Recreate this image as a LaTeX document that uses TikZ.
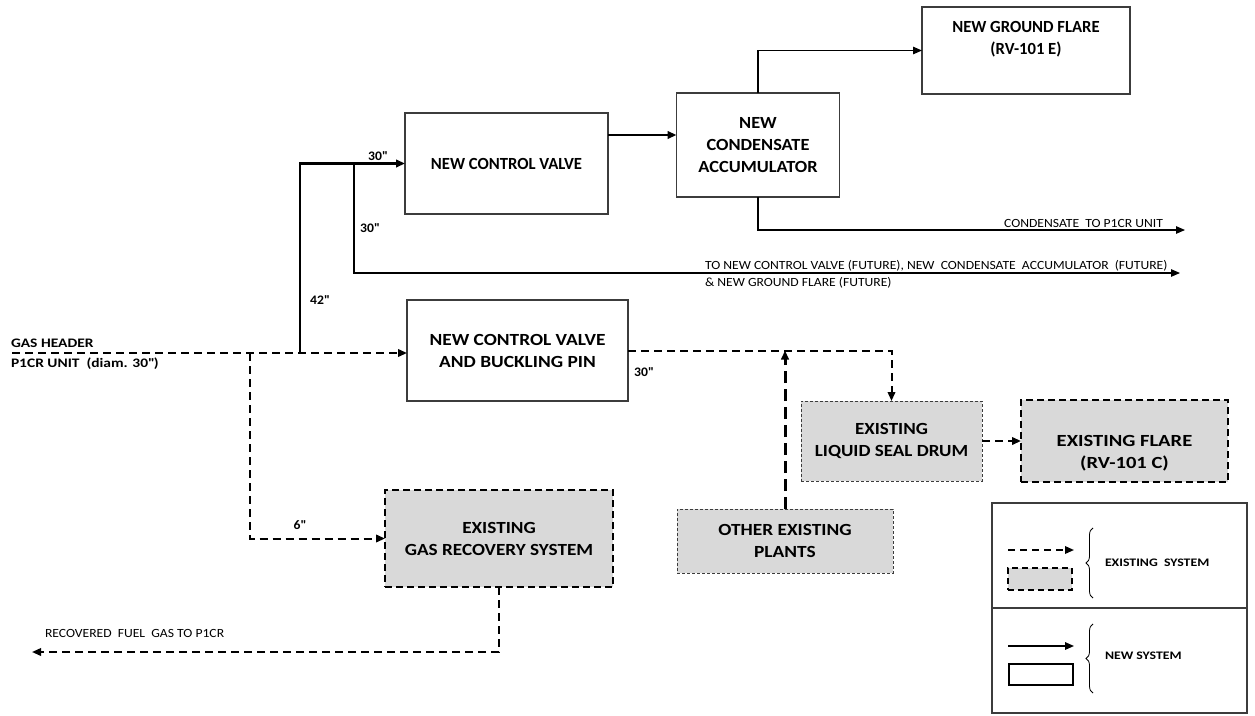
\documentclass[tikz,border=0pt]{standalone}
\usepackage{fontspec}
\setmainfont{Carlito}
\usetikzlibrary{arrows.meta,decorations.pathreplacing}
\definecolor{exfill}{RGB}{217,217,217}
\definecolor{edge}{RGB}{60,60,60}
\newcommand\dq{\XeTeXglyph\XeTeXcharglyph"22\relax}
\begin{document}
\begin{tikzpicture}[x=1pt,y=-1pt,
  every node/.style={inner sep=0pt, outer sep=0pt},
  boxtxt/.style={font=\fontsize{17}{22}\selectfont\bfseries\addfontfeature{FakeStretch=#1}, align=center},
  boxtxt/.default=1.13,
  newbox/.style={boxtxt=#1, draw=edge, line width=1.1pt, fill=white},
  newbox/.default=1.13,
  exboxthick/.style={boxtxt=#1, draw=black, line width=2pt, dash pattern=on 7pt off 4pt, fill=exfill},
  exboxthick/.default=1.13,
  exboxthin/.style={boxtxt=#1, draw=edge, line width=1pt, dash pattern=on 3pt off 2pt, fill=exfill},
  exboxthin/.default=1.13,
  tip/.style={-{Triangle[length=9pt,width=7.5pt]}},
  newthick/.style={line width=2.2pt, tip},
  newthin/.style={line width=1.2pt, tip},
  exline/.style={line width=2pt, dash pattern=on 8pt off 5pt, tip},
  exthick/.style={line width=3pt, dash pattern=on 12pt off 6pt, tip},
  dim/.style={font=\fontsize{13}{15}\selectfont\bfseries\addfontfeature{FakeStretch=1.05}},
  hdr/.style={font=\fontsize{13}{15}\selectfont\bfseries\addfontfeature{FakeStretch=1.19}, anchor=west},
  note/.style={font=\fontsize{12.5}{15}\selectfont\addfontfeature{FakeStretch=1.09}},
  legtxt/.style={font=\fontsize{11.5}{13}\selectfont\bfseries\addfontfeature{FakeStretch=1.2}, anchor=west},
  legbrace/.style={line width=0.8pt, decorate, decoration={brace, amplitude=7pt}}
]
\useasboundingbox (0,0) rectangle (1255,715);

% ---- boxes ----
\node[newbox=0.98, minimum width=203pt, minimum height=101pt] (cv) at (506.5,163.5) {NEW CONTROL VALVE};
\node[newbox=1.08, minimum width=163pt, minimum height=104pt] (acc) at (758,145) {NEW\\CONDENSATE\\ACCUMULATOR};
\node[newbox, minimum width=208pt, minimum height=87pt] (gf) at (1026,50.5) {};
\node[boxtxt=0.98] (gft) at (1026,39) {NEW GROUND FLARE\\(RV-101 E)};
\node[newbox=1.14, minimum width=221pt, minimum height=101pt] (cvb) at (517.5,350.5) {NEW CONTROL VALVE\\AND BUCKLING PIN};
\node[exboxthick, minimum width=228pt, minimum height=97pt] (grs) at (499,538.5) {EXISTING\\GAS RECOVERY SYSTEM};
\node[exboxthin=1.12, minimum width=181pt, minimum height=80pt] (lsd) at (891.5,441) {EXISTING\\LIQUID SEAL DRUM};
\node[exboxthick, minimum width=207pt, minimum height=82pt] (ef) at (1124.5,441) {};
\node[boxtxt=1.21] (eft) at (1124.5,453) {EXISTING FLARE\\(RV-101 C)};
\node[exboxthin=1.14, minimum width=216pt, minimum height=64pt] (op) at (785,541) {OTHER EXISTING\\PLANTS};

% ---- coordinates ----
\coordinate (gh) at (12,353);
\coordinate (j6) at (250,353);
\coordinate (j42) at (300,353);
\path (cv.west) ++(-51,0) coordinate (j30);
\coordinate (fut) at (1180,273);
\coordinate (cond) at (1185,230);
\coordinate (rec) at (32,652);

% ---- connectors ----
\draw[exline] (gh) -- (gh -| cvb.west);
\draw[newthick] (j42) |- (cv.west);
\draw[newthin] (j30) |- (fut);
\draw[newthick] ([yshift=28.5pt]cv.east) coordinate (a1) -- (a1 -| acc.west);
\draw[newthin] (acc.north) |- (gf.west);
\draw[newthin] (acc.south) |- (cond);
\draw[exline] (j6) |- (grs.west);
\draw[exline] (grs.south) |- (rec);
\draw[exline] (cvb.east) -| (lsd.north);
\draw[exthick] (op.north) -- (op.north |- cvb.east);
\draw[exline] (lsd.east) -- (ef.west);

% ---- labels ----
\node[dim] (l30a) at (378,156) {30\dq};
\node[dim] (l30b) at (370,228) {30\dq};
\node[dim] (l42) at (320,300) {42\dq};
\node[dim] (l30c) at (644,372) {30\dq};
\node[dim] (l6) at (300,525) {6\dq};
\node[hdr] (gh1) at (11,343) {GAS HEADER};
\node[hdr] (gh2) at (11,364) {P1CR UNIT\ \ (diam. 30\dq)};
\node[note, anchor=east] (condt) at (1163,223) {CONDENSATE\ \ TO P1CR UNIT};
\node[note, anchor=west] (futt1) at (705,266) {TO NEW CONTROL VALVE (FUTURE), NEW\ \ CONDENSATE\ \ ACCUMULATOR\ \ (FUTURE)};
\node[note, anchor=west] (futt2) at (705,283) {\& NEW GROUND FLARE (FUTURE)};
\node[note, anchor=west] (rect) at (45,633) {RECOVERED\ \ FUEL\ \ GAS TO P1CR};

% ---- legend ----
\node[draw=edge, line width=1.2pt, minimum width=255pt, minimum height=210pt] (lg) at (1119.5,608) {};
\draw[draw=edge, line width=1.2pt] (lg.west) -- (lg.east);
\coordinate (la1) at (1008,550);
\coordinate (la2) at (1074,550);
\draw[exline, line width=1.8pt, dash pattern=on 7pt off 5pt] (la1) -- (la2);
\node[draw=black, line width=1.8pt, dash pattern=on 6pt off 4pt, fill=exfill, minimum width=64pt, minimum height=22pt] (lr1) at (1040,579) {};
\draw[legbrace] (1093,598) -- (1093,528);
\node[legtxt] (lt1) at (1105,563) {EXISTING\ \ SYSTEM};
\coordinate (lb1) at (1008,646);
\coordinate (lb2) at (1074,646);
\draw[newthin, line width=1.6pt] (lb1) -- (lb2);
\node[draw=black, line width=1.6pt, fill=white, minimum width=64pt, minimum height=21pt] (lr2) at (1041,674.5) {};
\draw[legbrace] (1093,693) -- (1093,624);
\node[legtxt] (lt2) at (1105,656) {NEW SYSTEM};
\end{tikzpicture}
\end{document}
